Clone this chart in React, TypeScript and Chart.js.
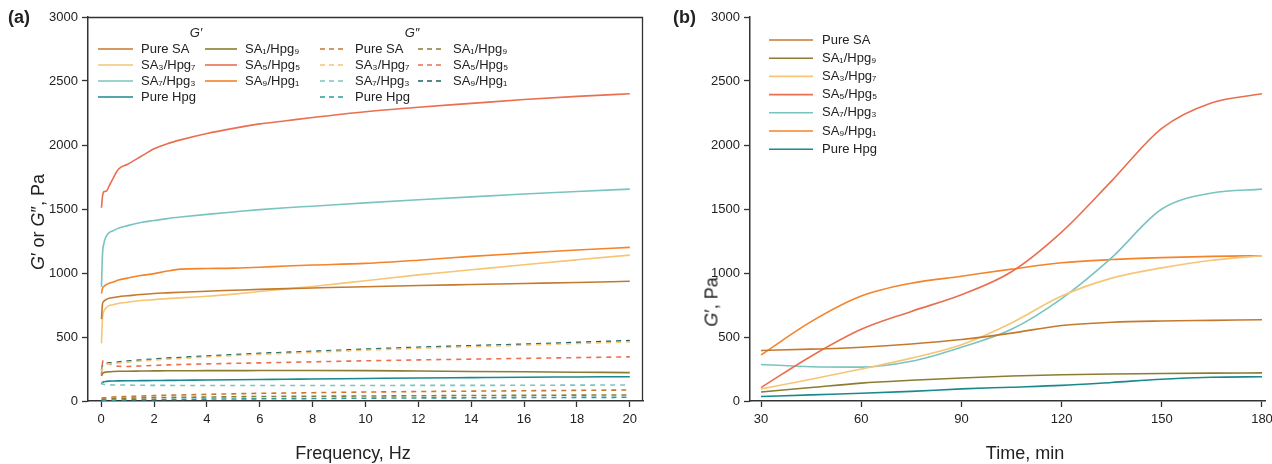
import React, { useEffect, useRef } from "react";
import { Chart, registerables } from "chart.js";
Chart.register(...registerables);

// ---------- DATA ----------
const seriesNames = ["Pure SA", "SA₁/Hpg₉", "SA₃/Hpg₇", "SA₅/Hpg₅", "SA₇/Hpg₃", "SA₉/Hpg₁", "Pure Hpg"];

const freqHz = [0.01, 0.05, 0.1, 0.2, 0.3, 0.45, 0.65, 1, 1.5, 2, 2.5, 3, 4, 5, 6, 7, 8, 10, 12, 14, 16, 18, 20];

// G' (storage modulus) vs frequency
const gpPureSA = [640, 760, 780, 795, 802, 808, 815, 822, 832, 840, 845, 850, 858, 865, 872, 878, 883, 893, 902, 910, 918, 926, 935];
const gpSA1 = [195, 215, 222, 226, 228, 230, 232, 233, 234, 235, 236, 236, 237, 237, 238, 238, 238, 237, 234, 231, 228, 225, 222];
const gpSA3 = [450, 650, 700, 730, 745, 752, 762, 772, 785, 792, 800, 806, 818, 835, 855, 875, 895, 940, 985, 1025, 1065, 1103, 1140];
const gpSA5 = [1510, 1600, 1635, 1640, 1680, 1740, 1810, 1850, 1910, 1970, 2010, 2040, 2090, 2130, 2165, 2190, 2215, 2260, 2295, 2325, 2355, 2380, 2400];
const gpSA7 = [890, 1150, 1230, 1290, 1315, 1330, 1350, 1370, 1395, 1410, 1425, 1437, 1458, 1477, 1495, 1510, 1522, 1548, 1572, 1595, 1617, 1637, 1655];
const gpSA9 = [840, 880, 895, 910, 920, 930, 945, 960, 980, 995, 1015, 1030, 1035, 1038, 1045, 1055, 1062, 1075, 1100, 1130, 1155, 1180, 1200];
const gpPureHpg = [130, 145, 150, 153, 155, 156, 157, 158, 159, 160, 161, 162, 164, 166, 168, 170, 172, 176, 180, 183, 186, 188, 190];

// G'' (loss modulus) vs frequency
const gppPureSA = [20, 23, 25, 28, 30, 31, 33, 35, 39, 42, 45, 47, 52, 56, 60, 62, 65, 70, 74, 77, 80, 83, 86];
const gppSA1 = [12, 14, 15, 16, 17, 18, 20, 22, 24, 26, 28, 29, 31, 33, 35, 36, 37, 39, 41, 43, 44, 46, 47];
const gppSA3 = [230, 268, 280, 287, 290, 292, 297, 304, 312, 320, 327, 332, 344, 354, 364, 372, 380, 397, 412, 424, 436, 449, 462];
const gppSA5 = [200, 300, 320, 305, 290, 280, 272, 270, 274, 278, 282, 285, 290, 294, 298, 302, 306, 314, 321, 327, 333, 339, 345];
const gppSA7 = [150, 135, 130, 127, 126, 125, 125, 124, 123, 122, 122, 121, 121, 121, 121, 121, 121, 121, 122, 122, 123, 124, 125];
const gppSA9 = [240, 280, 290, 295, 298, 300, 305, 312, 320, 328, 335, 340, 352, 362, 372, 380, 388, 405, 420, 432, 444, 458, 472];
const gppPureHpg = [3, 4, 5, 6, 6, 7, 8, 9, 10, 11, 12, 13, 15, 16, 17, 18, 19, 22, 24, 25, 27, 28, 29];

// G' vs time
const timeMin = [30, 45, 60, 75, 90, 105, 120, 135, 150, 165, 180];
const tPureSA = [395, 405, 420, 445, 480, 530, 590, 615, 625, 630, 635];
const tSA1 = [70, 105, 140, 162, 180, 195, 205, 211, 215, 218, 220];
const tSA3 = [95, 170, 250, 335, 440, 610, 820, 960, 1040, 1100, 1135];
const tSA5 = [105, 350, 560, 700, 830, 1010, 1320, 1720, 2130, 2330, 2400];
const tSA7 = [285, 268, 265, 310, 420, 560, 800, 1120, 1500, 1625, 1655];
const tSA9 = [360, 620, 820, 920, 975, 1030, 1080, 1105, 1120, 1130, 1135];
const tPureHpg = [35, 48, 60, 75, 95, 108, 122, 145, 170, 185, 190];

const xTicksFreq = [0, 2, 4, 6, 8, 10, 12, 14, 16, 18, 20];
const xTicksTime = [30, 60, 90, 120, 150, 180];
const yTicks = [0, 500, 1000, 1500, 2000, 2500, 3000];

// ---------- STYLE ----------
const FONT = "'Liberation Sans', Arial, sans-serif";
const colors = ["#C47A2E", "#8A7D32", "#F6C576", "#EA6E50", "#79C4C0", "#F4832A", "#1A898C"];
const dashColors = ["#C47A2E", "#8A7D32", "#F6C576", "#EA6E50", "#79C4C0", "#1C6262", "#2A9A9C"];
const AXIS = "#333333";
const DASH = [5, 5];

const legendPlugin = {
  id: "customLegend",
  afterDraw(chart: any, _args: any, opts: any) {
    const ctx = chart.ctx as CanvasRenderingContext2D;
    ctx.save();
    if (opts.frame) {
      const a = chart.chartArea;
      ctx.strokeStyle = AXIS;
      ctx.lineWidth = 1.3;
      ctx.beginPath();
      ctx.moveTo(a.left, a.top + 0.5);
      ctx.lineTo(a.right - 0.5, a.top + 0.5);
      ctx.lineTo(a.right - 0.5, a.bottom);
      ctx.stroke();
    }
    for (const h of opts.headers || []) {
      ctx.fillStyle = "#222";
      ctx.font = `italic 13px ${FONT}`;
      ctx.textAlign = "center";
      ctx.textBaseline = "middle";
      ctx.fillText(h.text, h.x, h.y);
    }
    for (const it of opts.items || []) {
      ctx.strokeStyle = it.color;
      ctx.lineWidth = 1.6;
      ctx.setLineDash(it.dash || []);
      ctx.beginPath();
      ctx.moveTo(it.x, it.y);
      ctx.lineTo(it.x + it.len, it.y);
      ctx.stroke();
      ctx.setLineDash([]);
      ctx.fillStyle = "#222";
      ctx.font = `13px ${FONT}`;
      ctx.textAlign = "left";
      ctx.textBaseline = "middle";
      ctx.fillText(it.text, it.x + it.len + it.gap, it.y);
    }
    ctx.restore();
  },
};

function axisX(min: number, max: number, ticks: number[]) {
  return {
    type: "linear",
    min,
    max,
    afterBuildTicks: (s: any) => {
      s.ticks = ticks.map((v) => ({ value: v }));
    },
    afterFit: (s: any) => {
      s.height = 63;
    },
    grid: { display: true, drawOnChartArea: false, drawTicks: true, tickLength: 6, tickColor: AXIS, tickWidth: 1.3 },
    border: { display: true, color: AXIS, width: 1.5 },
    ticks: { color: "#222", font: { family: FONT, size: 13 }, padding: 5, maxRotation: 0, autoSkip: false, callback: (v: any) => String(v) },
  };
}

function axisY(width: number) {
  return {
    type: "linear",
    min: 0,
    max: 3000,
    afterBuildTicks: (s: any) => {
      s.ticks = yTicks.map((v) => ({ value: v }));
    },
    afterFit: (s: any) => {
      s.width = width;
    },
    grid: { display: true, drawOnChartArea: false, drawTicks: true, tickLength: 6, tickColor: AXIS, tickWidth: 1.3 },
    border: { display: true, color: AXIS, width: 1.5 },
    ticks: { color: "#222", font: { family: FONT, size: 13 }, padding: 4, autoSkip: false, callback: (v: any) => String(v) },
  };
}

function line(label: string, xs: number[], ys: number[], color: string, dash: number[] = []) {
  return {
    label,
    data: xs.map((x, i) => ({ x, y: ys[i] })),
    borderColor: color,
    backgroundColor: color,
    borderWidth: 1.6,
    borderDash: dash,
    pointRadius: 0,
    tension: 0.4,
    cubicInterpolationMode: "monotone",
    fill: false,
  };
}

export default function App() {
  const refA = useRef<HTMLCanvasElement>(null);
  const refB = useRef<HTMLCanvasElement>(null);

  useEffect(() => {
    const gp = [gpPureSA, gpSA1, gpSA3, gpSA5, gpSA7, gpSA9, gpPureHpg];
    const gpp = [gppPureSA, gppSA1, gppSA3, gppSA5, gppSA7, gppSA9, gppPureHpg];
    const tg = [tPureSA, tSA1, tSA3, tSA5, tSA7, tSA9, tPureHpg];

    const order = [0, 2, 4, 6, 1, 3, 5];
    const rowY = [49, 65, 81, 97];
    const itemsA: any[] = [];
    order.forEach((si, k) => {
      const col = k < 4 ? 0 : 1;
      const row = k < 4 ? k : k - 4;
      itemsA.push({ text: seriesNames[si], color: colors[si], x: col === 0 ? 98 : 205, len: col === 0 ? 35 : 32, gap: 8, y: rowY[row] });
      itemsA.push({ text: seriesNames[si], color: dashColors[si], dash: [5, 4], x: col === 0 ? 320 : 418, len: 27, gap: 8, y: rowY[row] });
    });

    const chartA = new Chart(refA.current!, {
      type: "line",
      data: {
        datasets: [
          ...gpp.map((d, i) => line(seriesNames[i] + " G''", freqHz, d, dashColors[i], DASH)),
          ...gp.map((d, i) => line(seriesNames[i] + " G'", freqHz, d, colors[i])),
        ],
      } as any,
      options: {
        responsive: false,
        animation: false,
        layout: { padding: { left: 0, top: 17, right: 7, bottom: 0 } },
        scales: { x: axisX(-0.5, 20.5, xTicksFreq), y: axisY(88) } as any,
        plugins: {
          legend: { display: false },
          tooltip: { enabled: false },
          customLegend: {
            frame: true,
            headers: [
              { text: "G′", x: 196, y: 33 },
              { text: "G″", x: 412, y: 33 },
            ],
            items: itemsA,
          },
        } as any,
      },
      plugins: [legendPlugin],
    });

    const itemsB = seriesNames.map((n, i) => ({ text: n, color: colors[i], x: 119, len: 44, gap: 9, y: 40 + i * 18.2 }));
    const chartB = new Chart(refB.current!, {
      type: "line",
      data: {
        datasets: tg.map((d, i) => line(seriesNames[i], timeMin, d, colors[i])),
      } as any,
      options: {
        responsive: false,
        animation: false,
        layout: { padding: { left: 0, top: 17, right: 25, bottom: 0 } },
        scales: { x: axisX(26.7, 180.9, xTicksTime), y: axisY(100) } as any,
        plugins: {
          legend: { display: false },
          tooltip: { enabled: false },
          customLegend: { frame: false, items: itemsB },
        } as any,
      },
      plugins: [legendPlugin],
    });

    return () => {
      chartA.destroy();
      chartB.destroy();
    };
  }, []);

  const txt: React.CSSProperties = { position: "absolute", fontFamily: FONT, color: "#222", whiteSpace: "nowrap" };
  const rot: React.CSSProperties = { ...txt, transform: "translate(-50%, -50%) rotate(-90deg)", fontSize: 18 };

  return (
    <div style={{ position: "absolute", left: 0, top: 0, width: 1272, height: 464, background: "#fff", overflow: "hidden" }}>
      <canvas ref={refA} width={650} height={464} style={{ position: "absolute", left: 0, top: 0, width: 650, height: 464 }} />
      <canvas ref={refB} width={640} height={464} style={{ position: "absolute", left: 650, top: 0, width: 640, height: 464 }} />
      <div style={{ ...txt, left: 8, top: 7, fontSize: 18, fontWeight: "bold" }}>(a)</div>
      <div style={{ ...txt, left: 673, top: 7, fontSize: 18, fontWeight: "bold" }}>(b)</div>
      <div style={{ ...rot, left: 38, top: 222 }}>
        <i>G</i>′ or <i>G</i>″, Pa
      </div>
      <div style={{ ...rot, left: 712, top: 302 }}>
        <i>G</i>′, Pa
      </div>
      <div style={{ ...txt, left: 353, top: 453, transform: "translate(-50%, -50%)", fontSize: 18 }}>Frequency, Hz</div>
      <div style={{ ...txt, left: 1025, top: 453, transform: "translate(-50%, -50%)", fontSize: 18 }}>Time, min</div>
    </div>
  );
}
